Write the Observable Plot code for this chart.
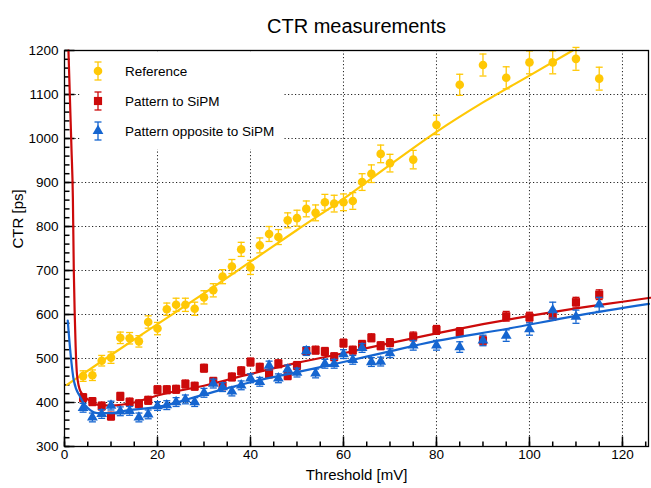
<!DOCTYPE html>
<html><head><meta charset="utf-8">
<script src="https://cdn.jsdelivr.net/npm/d3@7"></script>
<script src="https://cdn.jsdelivr.net/npm/@observablehq/plot@0.6"></script>
<style>
body{margin:0;background:#fff;font-family:"Liberation Sans",Arial,Helvetica,sans-serif}
#wrap{position:relative;width:651px;height:488px}
#legend{position:absolute;left:80px;top:52px;width:204px;height:97px;background:#fff}
</style></head><body><div id="wrap"><div id="chart"></div><div id="legend"></div></div>
<script>
const title = "CTR measurements";
const xLabel = "Threshold [mV]";
const yLabel = "CTR [ps]";
const seriesNames = ["Reference", "Pattern to SiPM", "Pattern opposite to SiPM"];
const seriesColors = ["#ffc805", "#cc0a0a", "#1565d0"];

const thresholds = [4,6,8,10,12,14,16,18,20,22,24,26,28,30,32,34,36,38,40,42,44,46,48,50,52,54,56,58,60,62,64,66,68,70,75,80,85,90,95,100,105,110,115];

const refCTR = [460,462,495,502,547,546,539,583,568,612,622,622,613,639,655,686,709,748,707,757,783,776,814,819,840,831,855,852,855,858,901,920,965,944,952,1031,1122,1167,1138,1173,1173,1181,1136];
const refErr = [12,12,12,13,13,13,13,14,14,14,15,15,15,15,15,16,16,16,16,17,17,17,17,18,18,18,18,19,19,19,19,20,20,20,21,22,24,25,25,26,26,26,26];

const toCTR = [411,402,392,369,414,401,397,405,429,429,430,442,437,478,448,438,458,472,492,480,465,488,461,484,517,519,516,504,535,519,532,547,529,536,550,565,560,541,596,594,598,628,645];
const toErr = [9,9,9,9,9,9,9,9,9,9,9,9,9,9,9,9,9,9,9,9,9,9,9,9,9,9,9,9,9,9,9,9,9,9,10,10,10,10,11,11,11,11,11];

const oppCTR = [388,366,374,393,380,381,366,373,392,394,401,407,401,422,443,435,425,439,455,447,484,455,475,468,517,466,488,488,510,497,524,492,493,512,530,530,526,541,552,567,610,595,623];
const oppErr = [10,10,10,10,10,10,10,10,10,10,10,10,10,10,10,10,10,10,10,10,10,10,10,10,10,10,10,10,10,10,10,10,10,10,11,11,12,12,13,14,18,15,16];

// fit curves
const refFitX = [0.5,10,20,30,40,50,60,70,80,90,100,109.3];
const refFitY = [440,508,578,648,720,792,863,940,1015,1082,1143,1200];
const toFitX = [0.85,1.2,1.5,1.8,2.0,2.2,2.4,2.7,3.4,4.9,7,10,15,20,30,40,50,60,70,80,90,100,110,120,126];
const toFitY = [1200,1080,977,866,700,600,526,462,426,408,395,393,400,416,438,465,490,512,535,557,578,597,614,629,638];
const oppFitX = [0.7,1.3,2,3.4,5.6,7,10,13.5,20,30,40,50,60,69,80,95,110,125.7];
const oppFitY = [586,511,450,412,382,376,376,382,390,418,446,469,492,514,540,567,597,624];

const xTicks = [0,20,40,60,80,100,120];
const yTicks = [300,400,500,600,700,800,900,1000,1100,1200];
const xMinor = d3.range(0, 126, 5);
const yMinor = d3.range(300, 1201, 20);

const mk = (ys, es) => thresholds.map((x, i) => ({x, y: ys[i], lo: ys[i] - es[i], hi: ys[i] + es[i]}));
const pts = [mk(refCTR, refErr), mk(toCTR, toErr), mk(oppCTR, oppErr)];
const fits = [
  refFitX.map((x, i) => ({x, y: refFitY[i]})),
  toFitX.map((x, i) => ({x, y: toFitY[i]})),
  oppFitX.map((x, i) => ({x, y: oppFitY[i]}))
];
const symbols = ["circle", "square", "triangle"];
const radii = [4.3, 4.6, 4.0];

const capSym = {draw(ctx){ ctx.moveTo(-3.5, 0); ctx.lineTo(3.5, 0); }};
const tickUp = len => ({draw(ctx){ ctx.moveTo(0, 0); ctx.lineTo(0, -len); }});
const tickRight = len => ({draw(ctx){ ctx.moveTo(0, 0); ctx.lineTo(len, 0); }});

const seriesMarks = [];
for (let s = 0; s < 3; s++) {
  const c = seriesColors[s];
  seriesMarks.push(
    Plot.ruleX(pts[s], {x: "x", y1: "lo", y2: "hi", stroke: c, strokeWidth: 1.3}),
    Plot.dot(pts[s], {x: "x", y: "lo", symbol: capSym, stroke: c, fill: "none", strokeWidth: 1.3}),
    Plot.dot(pts[s], {x: "x", y: "hi", symbol: capSym, stroke: c, fill: "none", strokeWidth: 1.3}),
    Plot.dot(pts[s], {x: "x", y: "y", symbol: symbols[s], r: radii[s], fill: c, stroke: "none"}),
    Plot.line(fits[s], {x: "x", y: "y", stroke: c, strokeWidth: 2.2, curve: "monotone-x"})
  );
}

const chart = Plot.plot({
  width: 651, height: 488,
  marginLeft: 64, marginRight: 3, marginTop: 50, marginBottom: 42,
  style: {fontFamily: "'Liberation Sans', Arial, Helvetica, sans-serif", background: "#fff", color: "#000"},
  x: {domain: [0, 125.6]},
  y: {domain: [300, 1200]},
  marks: [
    Plot.gridX(xTicks, {stroke: "#222", strokeOpacity: 1, strokeDasharray: "1.2,2.3", strokeWidth: 1}),
    Plot.gridY(yTicks, {stroke: "#222", strokeOpacity: 1, strokeDasharray: "1.2,2.3", strokeWidth: 1}),
    Plot.axisX(xTicks, {tickSize: 0, tickPadding: 3, fontSize: 13.5, tickFormat: d => String(d), label: null}),
    Plot.axisY(yTicks, {tickSize: 0, tickPadding: 6, fontSize: 13.5, tickFormat: d => String(d), label: null}),
    Plot.dot(xMinor, {x: d => d, frameAnchor: "bottom", symbol: tickUp(5), stroke: "#000", fill: "none"}),
    Plot.dot(xTicks, {x: d => d, frameAnchor: "bottom", symbol: tickUp(10), stroke: "#000", fill: "none"}),
    Plot.dot(yMinor, {y: d => d, frameAnchor: "left", symbol: tickRight(5), stroke: "#000", fill: "none"}),
    Plot.dot(yTicks, {y: d => d, frameAnchor: "left", symbol: tickRight(10), stroke: "#000", fill: "none"}),
    ...seriesMarks,
    Plot.frame({stroke: "#000", strokeWidth: 1.3}),
    Plot.text([title], {frameAnchor: "top", dy: -32, fontSize: 20, fill: "#000"}),
    Plot.text([xLabel], {frameAnchor: "bottom", dy: 33, fontSize: 15, fill: "#000"}),
    Plot.text([yLabel], {frameAnchor: "left", dx: -46, rotate: -90, fontSize: 15, fill: "#000"})
  ]
});
document.getElementById("chart").appendChild(chart);

// legend
const rows = [19, 49, 79];
const lsvg = d3.create("svg").attr("width", 204).attr("height", 97)
  .style("font-family", "'Liberation Sans', Arial, Helvetica, sans-serif");
const symGen = [d3.symbolCircle, d3.symbolSquare, d3.symbolTriangle];
for (let s = 0; s < 3; s++) {
  const g = lsvg.append("g").attr("transform", `translate(18,${rows[s]})`);
  const c = seriesColors[s];
  g.append("line").attr("y1", -9).attr("y2", 9).attr("stroke", c).attr("stroke-width", 1.3);
  g.append("line").attr("x1", -3.5).attr("x2", 3.5).attr("y1", -9).attr("y2", -9).attr("stroke", c).attr("stroke-width", 1.3);
  g.append("line").attr("x1", -3.5).attr("x2", 3.5).attr("y1", 9).attr("y2", 9).attr("stroke", c).attr("stroke-width", 1.3);
  g.append("path").attr("d", d3.symbol(symGen[s], Math.PI * radii[s] * radii[s])()).attr("fill", c);
  lsvg.append("text").attr("x", 45).attr("y", rows[s]).attr("dy", "0.35em")
    .attr("font-size", 13.5).attr("fill", "#000").text(seriesNames[s]);
}
document.getElementById("legend").appendChild(lsvg.node());
</script>
</body></html>
